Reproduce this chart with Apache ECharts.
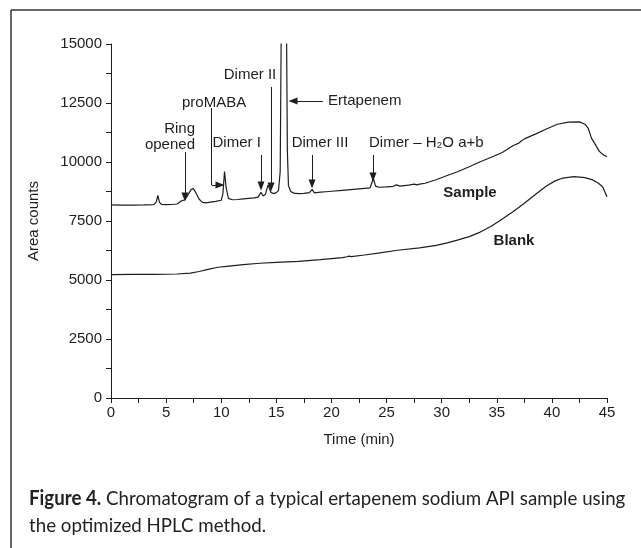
<!DOCTYPE html>
<html><head><meta charset="utf-8">
<script src="https://cdn.jsdelivr.net/npm/echarts@6/dist/echarts.min.js"></script>
<style>html,body{margin:0;padding:0;background:#fff}#c{width:641px;height:548px}</style>
</head><body><div id="c"></div>
<script>
// ---- data ----
const xTicks = [0, 5, 10, 15, 20, 25, 30, 35, 40, 45];
const yTicks = [0, 2500, 5000, 7500, 10000, 12500, 15000];

const sampleTrace = [
  [0,8180],[1,8170],[2,8175],[3,8180],[3.9,8190],[4.1,8300],[4.25,8580],[4.4,8290],[4.6,8200],
  [5.0,8190],[5.5,8200],[6.0,8220],[6.15,8300],[6.3,8330],[6.45,8290],[6.7,8400],[7.0,8620],
  [7.25,8820],[7.45,8880],[7.7,8700],[8.0,8420],[8.3,8290],[8.6,8270],[9.0,8300],[9.5,8330],
  [10.0,8380],[10.15,8650],[10.3,9600],[10.45,8900],[10.65,8460],[11.0,8400],[11.5,8410],
  [12.0,8440],[12.5,8460],[13.0,8480],[13.35,8510],[13.6,8720],[13.8,8560],[14.0,8620],
  [14.25,9030],[14.5,8720],[14.75,8660],[15.0,8700],[15.2,8800],[15.35,9600],[15.45,16000],
  [15.7,40000],[15.92,16000],[16.0,10500],[16.1,9000],[16.3,8750],[16.6,8680],[17.0,8660],
  [17.5,8670],[18.0,8700],[18.25,8840],[18.45,8690],[19.0,8720],[19.5,8740],[20.0,8760],
  [21.0,8800],[22.0,8840],[23.0,8880],[23.5,8900],[23.65,8950],[23.8,9300],[24.0,8980],
  [24.3,8930],[25.0,8950],[25.6,8970],[25.9,9030],[26.2,8980],[27.0,9020],[27.5,9060],
  [27.75,9030],[28.0,9060],[28.5,9100],[29.5,9250],[30.5,9430],[31.5,9600],[32.5,9800],
  [33.5,10010],[34.5,10200],[35.5,10400],[36.5,10700],[37.0,10800],[37.2,10880],[37.5,10980],
  [38.5,11180],[39.5,11400],[40.5,11600],[41.5,11690],[42.5,11700],[43.0,11600],[43.3,11420],
  [43.6,11000],[43.9,10780],[44.3,10450],[44.7,10300],[45.0,10220]
];

const blankTrace = [
  [0,5230],[2,5235],[4,5240],[6,5255],[7.2,5290],[8,5360],[8.8,5450],[9.7,5540],[10.5,5580],
  [12,5650],[13.5,5710],[15,5745],[17,5790],[19,5860],[21,5950],[21.4,5985],[21.6,6010],
  [21.8,5990],[23,6060],[24.4,6150],[26,6260],[28,6360],[29.5,6470],[30.5,6570],[31.5,6700],
  [32.5,6840],[33.5,7030],[34.5,7280],[35.5,7580],[36.5,7900],[37.5,8250],[38.5,8620],
  [39.5,8980],[40.3,9200],[41,9320],[42,9380],[43,9340],[43.7,9240],[44.2,9110],[44.6,8950],[45,8530]
];

// arrows: [fromTime, fromArea, toTime, toArea, head]
const arrowSegments = [
  [6.71, 10424, 6.71, 8517, true],
  [9.14, 12287, 9.14, 9025, false],
  [9.14, 9025, 9.89, 9025, true],
  [13.61, 10296, 13.61, 8983, true],
  [14.52, 13178, 14.52, 8940, true],
  [19.23, 12584, 16.51, 12584, true],
  [18.24, 10296, 18.24, 9067, true],
  [23.77, 10296, 23.77, 9364, true]
];

// peak labels: [text, time, area, anchor]
const peakLabels = [
  ['Ring\nopened', 7.62, 11059, 'right'],
  ['proMABA', 9.35, 12512, 'center'],
  ['Dimer I', 11.4, 10805, 'center'],
  ['Dimer II', 12.61, 13686, 'center'],
  ['Ertapenem', 19.69, 12584, 'left'],
  ['Dimer III', 18.96, 10805, 'center'],
  ['Dimer \u2013 H\u2082O a+b', 23.41, 10805, 'left']
];
const traceLabels = [
  ['Sample', 32.57, 8686],
  ['Blank', 36.56, 6652]
];
const captionLines = [
  '{b|Figure 4.} Chromatogram of a typical ertapenem sodium API sample using',
  'the optimized HPLC method.'
];

// ---- chart ----
const FONT = "'Liberation Sans', Arial, sans-serif";
const INK = '#1e1e1e';
const chart = echarts.init(document.getElementById('c'), null, {renderer: 'canvas'});

const arrowData = arrowSegments.map(a => [
  {coord: [a[0], a[1]], symbol: 'none'},
  {coord: [a[2], a[3]], symbol: a[4] ? 'triangle' : 'none', symbolSize: [7, 9]}
]);

chart.setOption({
  animation: false,
  backgroundColor: '#fff',
  grid: {left: 111, right: 34, top: 44, bottom: 150, containLabel: false},
  xAxis: {
    type: 'value', min: xTicks[0], max: xTicks[xTicks.length - 1], interval: xTicks[1] - xTicks[0],
    axisLine: {lineStyle: {color: INK, width: 1}},
    axisTick: {show: true, inside: false, length: 5, lineStyle: {color: INK}},
    minorTick: {show: true, splitNumber: 2, length: 5, lineStyle: {color: INK}},
    splitLine: {show: false},
    axisLabel: {color: INK, fontSize: 15, fontFamily: FONT, margin: 7, formatter: v => String(v)},
    name: 'Time (min)', nameLocation: 'middle', nameGap: 34,
    nameTextStyle: {color: INK, fontSize: 15, fontFamily: FONT}
  },
  yAxis: {
    type: 'value', min: yTicks[0], max: yTicks[yTicks.length - 1], interval: yTicks[1] - yTicks[0],
    axisLine: {show: true, lineStyle: {color: INK, width: 1}},
    axisTick: {show: true, inside: false, length: 5, lineStyle: {color: INK}},
    minorTick: {show: true, splitNumber: 2, length: 5, lineStyle: {color: INK}},
    splitLine: {show: false},
    axisLabel: {color: INK, fontSize: 15, fontFamily: FONT, margin: 9, formatter: v => String(v)},
    name: 'Area counts', nameLocation: 'middle', nameGap: 70,
    nameTextStyle: {color: INK, fontSize: 15, fontFamily: FONT}
  },
  series: [
    {
      name: 'Sample', type: 'line', data: sampleTrace, showSymbol: false, symbol: 'none',
      lineStyle: {color: INK, width: 1.2}, clip: true, silent: true,
      markLine: {
        silent: true, animation: false, symbol: ['none', 'triangle'],
        label: {show: false},
        lineStyle: {color: INK, width: 1, type: 'solid'},
        itemStyle: {color: INK},
        data: arrowData
      }
    },
    {
      name: 'Blank', type: 'line', data: blankTrace, showSymbol: false, symbol: 'none',
      lineStyle: {color: INK, width: 1.2}, clip: true, silent: true
    }
  ]
});

// labels placed through the chart's own scales
const g = [];
peakLabels.forEach(l => {
  const p = chart.convertToPixel({gridIndex: 0}, [l[1], l[2]]);
  g.push({type: 'text', x: p[0], y: p[1], silent: true,
    style: {text: l[0], fill: INK, fontSize: 15, fontFamily: FONT, align: l[3], verticalAlign: 'middle', lineHeight: 16}});
});
traceLabels.forEach(l => {
  const p = chart.convertToPixel({gridIndex: 0}, [l[1], l[2]]);
  g.push({type: 'text', x: p[0], y: p[1], silent: true,
    style: {text: l[0], fill: INK, fontSize: 15, fontWeight: 'bold', fontFamily: FONT, align: 'center', verticalAlign: 'middle'}});
});
// frame
g.push({type: 'line', silent: true, shape: {x1: 11, y1: 10, x2: 641, y2: 10}, style: {stroke: '#333', lineWidth: 1.5}});
g.push({type: 'line', silent: true, shape: {x1: 11, y1: 10, x2: 11, y2: 548}, style: {stroke: '#333', lineWidth: 1.5}});
// caption (condensed humanist face)
const CAP = "Lato, sans-serif";
captionLines.forEach((t, i) => {
  g.push({type: 'text', x: 29, y: 499 + i * 27, scaleX: 0.935, silent: true,
    style: {text: t, fill: '#222', fontSize: 20, fontFamily: CAP, verticalAlign: 'middle', align: 'left',
      rich: {b: {fontWeight: 'bold', fontSize: 20, fontFamily: CAP, fill: '#222'}}}});
});
chart.setOption({graphic: g});
</script>
</body></html>
